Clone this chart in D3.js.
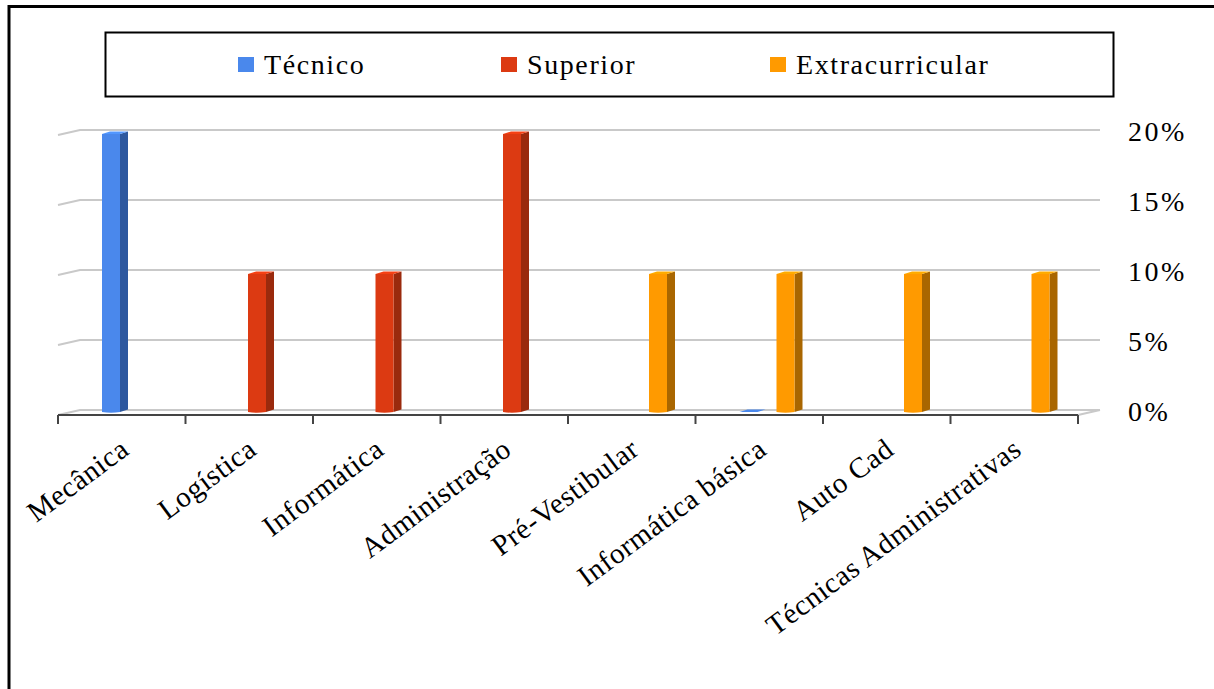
<!DOCTYPE html>
<html><head><meta charset="utf-8">
<script src="https://cdn.jsdelivr.net/npm/d3@7"></script>
<style>
html,body{margin:0;padding:0;background:#fff;}
svg{display:block;}
text{font-family:"Liberation Serif","Times New Roman",serif;}
</style></head>
<body>
<svg id="c" width="1214" height="689"></svg>
<script>
const categories = ["Mecânica","Logística","Informática","Administração","Pré-Vestibular","Informática básica","Auto Cad","Técnicas Administrativas"];
const seriesNames = ["Técnico","Superior","Extracurricular"];
const tecnico = [20, null, null, null, null, 0, null, null];
const superior = [null, 10, 10, 20, null, null, null, null];
const extracurricular = [null, null, null, null, 10, 10, 10, 10];
const yTicks = [0, 5, 10, 15, 20];
const yTickLabels = ["0%","5%","10%","15%","20%"];

const frontColors = ["#4a88ec","#dc3a12","#ff9a00"];
const sideColors = ["#2d589f","#9a2a0d","#a96600"];
const FONT = "Liberation Serif";

const svg = d3.select("#c");
const W = 1214, H = 689;
svg.append("rect").attr("width",W).attr("height",H).attr("fill","#fff");

// outer frame
svg.append("line").attr("x1",8).attr("x2",W).attr("y1",6.5).attr("y2",6.5).attr("stroke","#000").attr("stroke-width",3);
svg.append("line").attr("x1",9).attr("x2",9).attr("y1",5).attr("y2",H).attr("stroke","#000").attr("stroke-width",3);

// legend
svg.append("rect").attr("x",105.5).attr("y",32.5).attr("width",1008).attr("height",64)
  .attr("fill","none").attr("stroke","#000").attr("stroke-width",2);
const legendX = [238, 501, 770];
seriesNames.forEach((s,i)=>{
  svg.append("rect").attr("x",legendX[i]).attr("y",57).attr("width",16).attr("height",15).attr("fill",frontColors[i]);
  svg.append("text").attr("x",legendX[i]+26).attr("y",74)
    .attr("font-family",FONT).attr("font-size",28).attr("letter-spacing",1.6).attr("fill","#000").text(s);
});

// scales
const depthX = 22, depthY = -5;
const x0 = d3.scaleBand().domain(categories).range([58,1078]).paddingInner(0).paddingOuter(0);
const x1 = d3.scaleBand().domain(seriesNames).range([44, 99.5]);
const y = d3.scaleLinear().domain([0,20]).range([410,130]);

// gridlines
const gridColor = "#c9c9c9";
yTicks.forEach(t=>{
  const yy = y(t);
  svg.append("polyline")
    .attr("points", `${58},${yy-depthY} ${58+depthX},${yy} ${1078+depthX},${yy}`)
    .attr("fill","none").attr("stroke",gridColor).attr("stroke-width",2);
});
svg.append("line").attr("x1",1078).attr("y1",y(0)-depthY).attr("x2",1078+depthX).attr("y2",y(0))
  .attr("stroke",gridColor).attr("stroke-width",2);

// bars
const seriesData = [tecnico, superior, extracurricular];
const barW = 18, sideW = 8, topH = 2.5;
seriesData.forEach((arr,si)=>{
  arr.forEach((v,ci)=>{
    if (v === null) return;
    const bx = x0(categories[ci]) + x1(seriesNames[si]);
    const base = y(0) + 2;
    const top = y(v) + 4;
    const g = svg.append("g");
    if (v === 0) {
      g.append("polygon")
        .attr("points", `${bx},${base} ${bx+barW},${base} ${bx+barW+sideW},${base-topH} ${bx+sideW},${base-topH}`)
        .attr("fill",frontColors[si]);
      return;
    }
    g.append("polygon")
      .attr("points", `${bx+barW},${top} ${bx+barW+sideW},${top-topH} ${bx+barW+sideW},${base-topH} ${bx+barW},${base}`)
      .attr("fill",sideColors[si]);
    g.append("path")
      .attr("d", `M${bx},${top} H${bx+barW} V${base} Q${bx+barW/2},${base+1.5} ${bx},${base} Z`)
      .attr("fill",frontColors[si]);
    g.append("polygon")
      .attr("points", `${bx},${top} ${bx+barW},${top} ${bx+barW+sideW},${top-topH} ${bx+sideW},${top-topH}`)
      .attr("fill",d3.color(frontColors[si]).brighter(0.3));
  });
});

// x axis
const axisY = y(0) - depthY;
svg.append("line").attr("x1",58).attr("x2",1078).attr("y1",axisY).attr("y2",axisY)
  .attr("stroke","#444").attr("stroke-width",2);
const boundaries = categories.map(c=>x0(c)).concat([x0(categories[categories.length-1]) + x0.bandwidth()]);
boundaries.forEach(bx=>{
  svg.append("line").attr("x1",bx).attr("x2",bx).attr("y1",axisY).attr("y2",axisY+9)
    .attr("stroke","#444").attr("stroke-width",2);
});
categories.forEach(c=>{
  const cx = x0(c) + x0.bandwidth()/2 + 9;
  svg.append("text")
    .attr("transform",`translate(${cx},${axisY+38}) rotate(-36.5)`)
    .attr("text-anchor","end").attr("font-family",FONT).attr("font-size",29).attr("letter-spacing",0.6).attr("fill","#000").text(c);
});

// y labels
yTicks.forEach((t,i)=>{
  svg.append("text").attr("x",1128).attr("y",y(t)+11)
    .attr("font-family",FONT).attr("font-size",28).attr("letter-spacing",2.5).attr("fill","#000").text(yTickLabels[i]);
});
</script>
</body></html>
